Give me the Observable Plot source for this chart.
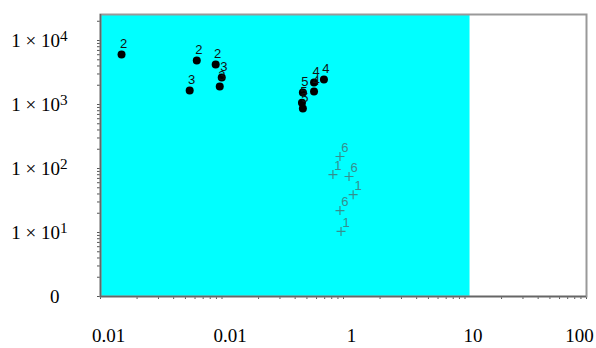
<!DOCTYPE html>
<html><head><meta charset="utf-8">
<script src="https://cdn.jsdelivr.net/npm/d3@7"></script>
<script src="https://cdn.jsdelivr.net/npm/@observablehq/plot@0.6"></script>
<style>body{margin:0;background:#fff}</style>
</head><body><div id="chart"></div>
<script>
// tick labels
const xTicks = [0.01, 0.1, 1, 10, 100];
const xTickLabels = ["0.01", "0.01", "1", "10", "100"];
const yTicks = [1, 10, 100, 1000, 10000];
const yTickLabels = ["0", "1 × 10^1", "1 × 10^2", "1 × 10^3", "1 × 10^4"];
// shaded band
const bandX = [0.01, 11];
const bandY = [1, 25500];
// black dot series
const dotX = [0.0149, 0.062, 0.0887, 0.0995, 0.0958, 0.0542, 0.463, 0.455, 0.463, 0.572, 0.572, 0.69];
const dotY = [6030, 4890, 4220, 2650, 1910, 1660, 1540, 1070, 866, 2200, 1600, 2460];
const dotLabel = ["2", "2", "2", "3", "3", "3", "5", "5", "5", "4", "4", "4"];
// grey cross series
const crossX = [0.935, 0.818, 1.11, 1.2, 0.935, 0.954];
const crossY = [154, 80.5, 75, 39, 22, 10.4];
const crossLabel = ["6", "1", "6", "1", "6", "1"];

const dots = dotX.map((x, i) => ({x, y: dotY[i], label: dotLabel[i]}));
const crosses = crossX.map((x, i) => ({x, y: crossY[i], label: crossLabel[i]}));
const band = [{x1: bandX[0], x2: bandX[1], y1: bandY[0], y2: bandY[1]}];

const minor = (lo, hi) => {
  const out = [];
  for (let e = lo; e < hi; e++) for (let m = 1; m < 10; m++) out.push(m * Math.pow(10, e));
  out.push(Math.pow(10, hi));
  return out;
};
const xMinor = minor(-2, 2);
const yMinor = minor(0, 4).concat([20000]);
const fmt = (ticks, labels) => d => { const i = ticks.findIndex(t => Math.abs(t - d) / t < 1e-6); return i >= 0 ? labels[i] : ""; };
const fmtX = fmt(xTicks, xTickLabels);
const fmtY = fmt(yTicks, yTickLabels);

const serif = "Liberation Serif, Times New Roman, serif";
const sans = "Liberation Sans, Arial, sans-serif";

const chart = Plot.plot({
  width: 596, height: 348,
  marginLeft: 100, marginRight: 10, marginTop: 14, marginBottom: 52,
  style: {background: "#fff", color: "#000", fontFamily: serif},
  x: {type: "log", domain: [0.01, 100]},
  y: {type: "log", domain: [1, 25500]},
  marks: [
    Plot.rect(band, {x1: "x1", x2: "x2", y1: "y1", y2: "y2", fill: "#00ffff"}),
    Plot.axisX(xMinor, {tickSize: 3, fill: "none", stroke: "#555", label: null}),
    Plot.axisY(yMinor, {tickSize: 3, fill: "none", stroke: "#555", label: null}),
    Plot.axisY(yTicks.slice(1), {tickSize: 0, tickPadding: 33, tickFormat: fmtY, fontSize: 19, fontFamily: serif, fill: "#000", label: null}),
    Plot.axisY(yTicks.slice(0, 1), {tickSize: 0, tickPadding: 41, tickFormat: fmtY, fontSize: 19, fontFamily: serif, fill: "#000", label: null}),
    Plot.axisX(xTicks.slice(0, 4), {tickSize: 0, tickPadding: 32, dx: 8, tickFormat: fmtX, fontSize: 19, fontFamily: serif, fill: "#000", label: null}),
    Plot.axisX(xTicks.slice(4), {tickSize: 0, tickPadding: 32, dx: -7, tickFormat: fmtX, fontSize: 19, fontFamily: serif, fill: "#000", label: null}),
    Plot.frame({stroke: "#999", strokeWidth: 2}),
    Plot.ruleX([0.01], {stroke: "#666", strokeWidth: 1.5}),
    Plot.ruleY([1], {stroke: "#666", strokeWidth: 1.5}),
    Plot.dot(crosses, {x: "x", y: "y", symbol: "plus", r: 3, stroke: "#358f8f", strokeWidth: 1.2}),
    Plot.text(crosses, {x: "x", y: "y", text: "label", dx: 5, dy: -9, fill: "#358f8f", fontSize: 13, fontFamily: sans}),
    Plot.dot(dots, {x: "x", y: "y", r: 4, fill: "#000"}),
    Plot.text(dots, {x: "x", y: "y", text: "label", dx: 2, dy: -11, fill: "#111", fontSize: 13, fontFamily: sans})
  ]
});

// superscripts for y tick labels
chart.querySelectorAll('text').forEach(t => {
  const s = t.textContent;
  if (s.includes("^")) {
    const [base, exp] = s.split("^");
    t.textContent = base;
    const ts = document.createElementNS("http://www.w3.org/2000/svg", "tspan");
    ts.setAttribute("dy", "-0.4em");
    ts.setAttribute("font-size", "0.8em");
    ts.textContent = exp;
    t.appendChild(ts);
  }
});
document.getElementById("chart").appendChild(chart);
</script>
</body></html>
